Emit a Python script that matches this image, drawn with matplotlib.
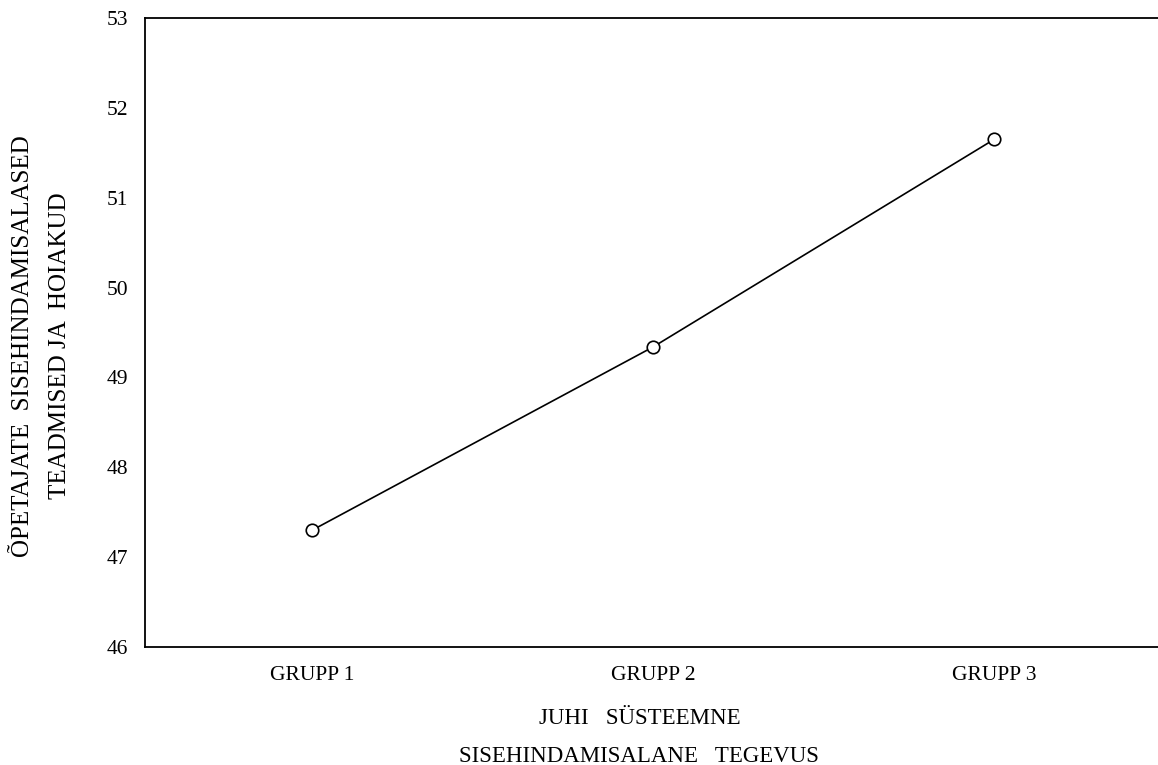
import matplotlib.pyplot as plt

plt.rcParams['font.family'] = ['Liberation Serif', 'DejaVu Serif']

# Data
groups = ['GRUPP 1', 'GRUPP 2', 'GRUPP 3']
means = [47.30, 49.34, 51.65]

fig = plt.figure(figsize=(11.58, 7.65), dpi=100)
ax = fig.add_axes([0.1252, 0.1542, 0.8748, 0.8223])

x = list(range(len(groups)))
ax.plot(x, means, color='black', linewidth=1.2, marker='o', markersize=9,
        markerfacecolor='white', markeredgecolor='black', markeredgewidth=1.2)

ax.set_xlim(-0.49, 2.48)
ax.set_ylim(46, 53)
ax.set_yticks(range(46, 54))
ax.set_xticks(x)
ax.set_xticklabels(groups)
ax.tick_params(axis='both', length=0, labelsize=15.5)
ax.tick_params(axis='y', pad=12)
ax.tick_params(axis='x', pad=14)

ax.spines['right'].set_visible(False)
for s in ['left', 'top', 'bottom']:
    ax.spines[s].set_linewidth(1.3)

ax.set_xlabel('JUHI   SÜSTEEMNE\nSISEHINDAMISALANE   TEGEVUS', fontsize=16.5,
              linespacing=2.05, labelpad=16)
ax.xaxis.label.set_x(0.488)
ax.set_ylabel('ÕPETAJATE  SISEHINDAMISALASED\nTEADMISED JA  HOIAKUD', fontsize=18,
              linespacing=1.85, labelpad=26)
ax.yaxis.label.set_y(0.479)

fig.savefig('out.png', dpi=100)
